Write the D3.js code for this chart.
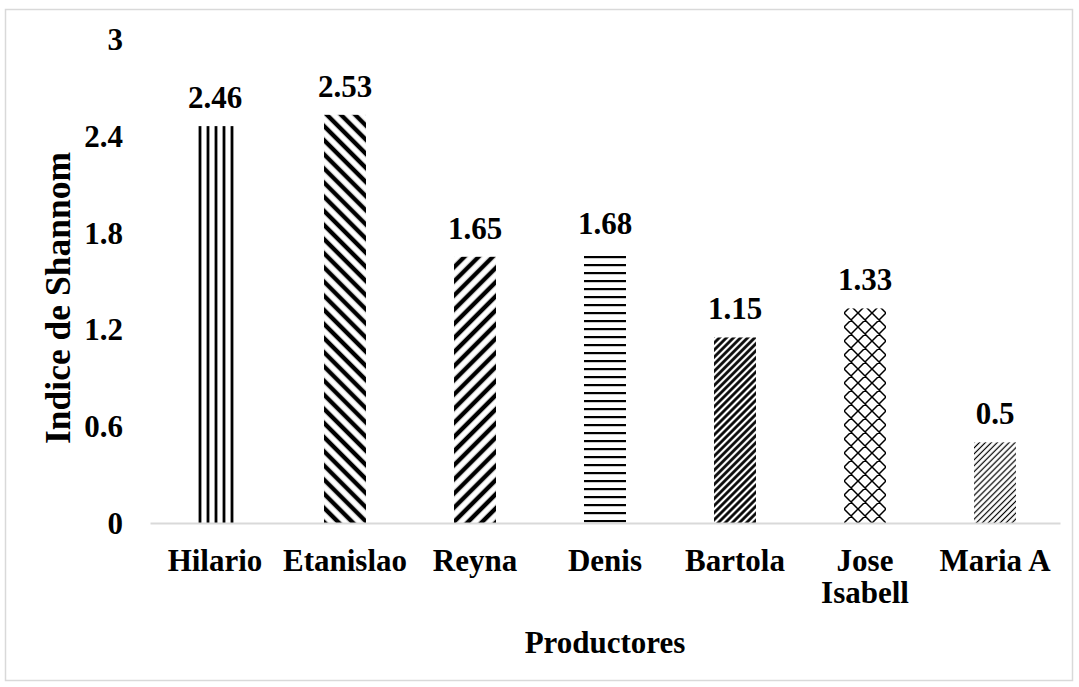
<!DOCTYPE html>
<html>
<head>
<meta charset="utf-8">
<script src="https://cdn.jsdelivr.net/npm/d3@7"></script>
<style>
  html, body { margin: 0; padding: 0; background: #fff; }
  svg text { font-family: "Liberation Serif", "Times New Roman", serif; font-weight: bold; fill: #000; }
</style>
</head>
<body>
<svg id="chart" width="1079" height="687"></svg>
<script>
// Shannon diversity index per producer
const categories = ["Hilario", "Etanislao", "Reyna", "Denis", "Bartola", "Jose Isabell", "Maria A"];
const categoryLines = [["Hilario"], ["Etanislao"], ["Reyna"], ["Denis"], ["Bartola"], ["Jose", "Isabell"], ["Maria A"]];
const shannonValues = [2.46, 2.53, 1.65, 1.68, 1.15, 1.33, 0.5];
const yTicks = [0, 0.6, 1.2, 1.8, 2.4, 3];
const yTickLabels = ["0", "0.6", "1.2", "1.8", "2.4", "3"];
// fill pattern used by each bar
const barPatterns = ["vertical", "wideDown", "wideUp", "horizontal", "darkUp", "diamond", "lightUp"];

const svg = d3.select("#chart");
const W = 1079, H = 687;

svg.append("rect").attr("width", W).attr("height", H).attr("fill", "#fff");
svg.append("rect")
  .attr("x", 5.5).attr("y", 9.5).attr("width", 1067).attr("height", 671)
  .attr("fill", "none").attr("stroke", "#d9d9d9").attr("stroke-width", 1.5);

const x = d3.scaleBand().domain(categories).range([150, 1060]).paddingInner(0.677).paddingOuter(0.3385);
const y = d3.scaleLinear().domain([0, 3]).range([523, 39]);

// hatch patterns
const defs = svg.append("defs");
function stripePattern(id, period, thickness, angle, ox, oy) {
  const p = defs.append("pattern")
    .attr("id", id)
    .attr("patternUnits", "userSpaceOnUse")
    .attr("width", period).attr("height", period)
    .attr("x", ox).attr("y", oy)
    .attr("patternTransform", `rotate(${angle})`);
  p.append("rect").attr("width", period).attr("height", period).attr("fill", "#fff");
  p.append("rect").attr("x", (period - thickness) / 2).attr("y", 0)
    .attr("width", thickness).attr("height", period).attr("fill", "#000");
  return p;
}
function makePattern(kind, i) {
  const id = "pat" + i;
  const cx = x(categories[i]) + x.bandwidth() / 2;
  const y0 = y(0);
  if (kind === "vertical") {
    stripePattern(id, 8, 2.8, 0, cx - 3, 0);
  } else if (kind === "horizontal") {
    const p = defs.append("pattern").attr("id", id).attr("patternUnits", "userSpaceOnUse")
      .attr("width", 8).attr("height", 8).attr("x", 0).attr("y", y0 + 2);
    p.append("rect").attr("width", 8).attr("height", 8).attr("fill", "#fff");
    p.append("rect").attr("x", 0).attr("y", 3).attr("width", 8).attr("height", 2.2).attr("fill", "#000");
  } else if (kind === "wideDown") {
    stripePattern(id, 10, 4.4, -45, cx, y0);
  } else if (kind === "wideUp") {
    stripePattern(id, 10, 4.4, 45, cx, y0);
  } else if (kind === "darkUp") {
    stripePattern(id, 5, 2.7, 45, cx, y0);
  } else if (kind === "lightUp") {
    stripePattern(id, 4.2, 1.2, 45, cx, y0);
  } else if (kind === "diamond") {
    const s = 14;
    const p = defs.append("pattern").attr("id", id).attr("patternUnits", "userSpaceOnUse")
      .attr("width", s).attr("height", s).attr("x", cx - s / 2).attr("y", y0);
    p.append("rect").attr("width", s).attr("height", s).attr("fill", "#fff");
    p.append("path").attr("d", `M0,0L${s},${s}M${s},0L0,${s}M${-s/2},${s/2}L0,${s}M${s/2},${-s/2}L${s},0M${s},${s}L${s*1.5},${s/2}M${s/2},${s*1.5}L${s},${s}`)
      .attr("stroke", "#000").attr("stroke-width", 1.5).attr("fill", "none");
  }
  return "url(#" + id + ")";
}

// bars
svg.append("g").selectAll("rect")
  .data(shannonValues)
  .join("rect")
  .attr("x", (d, i) => x(categories[i]))
  .attr("y", d => y(d))
  .attr("width", x.bandwidth())
  .attr("height", d => y(0) - y(d))
  .attr("fill", (d, i) => makePattern(barPatterns[i], i));

// value labels
svg.append("g").selectAll("text")
  .data(shannonValues)
  .join("text")
  .attr("x", (d, i) => x(categories[i]) + x.bandwidth() / 2)
  .attr("y", d => y(d) - 18)
  .attr("text-anchor", "middle")
  .attr("font-size", 31)
  .text(d => String(d));

// y axis (labels only)
const yAxis = d3.axisLeft(y).tickValues(yTicks).tickFormat((d, i) => yTickLabels[i]).tickSize(0).tickPadding(0);
const gy = svg.append("g").attr("transform", "translate(123,0)").call(yAxis);
gy.select(".domain").remove();
gy.selectAll("text").attr("font-size", 31).attr("font-family", null).attr("dy", "0.34em");

// x axis
const xAxis = d3.axisBottom(x).tickSize(0).tickFormat(() => "");
const gx = svg.append("g").attr("transform", `translate(0,${y(0)})`).call(xAxis);
gx.select(".domain").attr("stroke", "#d9d9d9").attr("stroke-width", 2);
gx.selectAll(".tick text").remove();
gx.selectAll(".tick").each(function(d, i) {
  const t = d3.select(this).append("text")
    .attr("text-anchor", "middle")
    .attr("font-size", 31)
    .attr("y", 48);
  categoryLines[i].forEach((line, k) => {
    t.append("tspan").attr("x", 0).attr("dy", k === 0 ? 0 : 32).text(line);
  });
});

// axis titles
svg.append("text")
  .attr("x", (150 + 1060) / 2).attr("y", 653)
  .attr("text-anchor", "middle").attr("font-size", 31)
  .text("Productores");
svg.append("text")
  .attr("transform", "translate(70,298) rotate(-90)")
  .attr("text-anchor", "middle").attr("font-size", 35.5)
  .text("Indice de Shannom");
</script>
</body>
</html>
